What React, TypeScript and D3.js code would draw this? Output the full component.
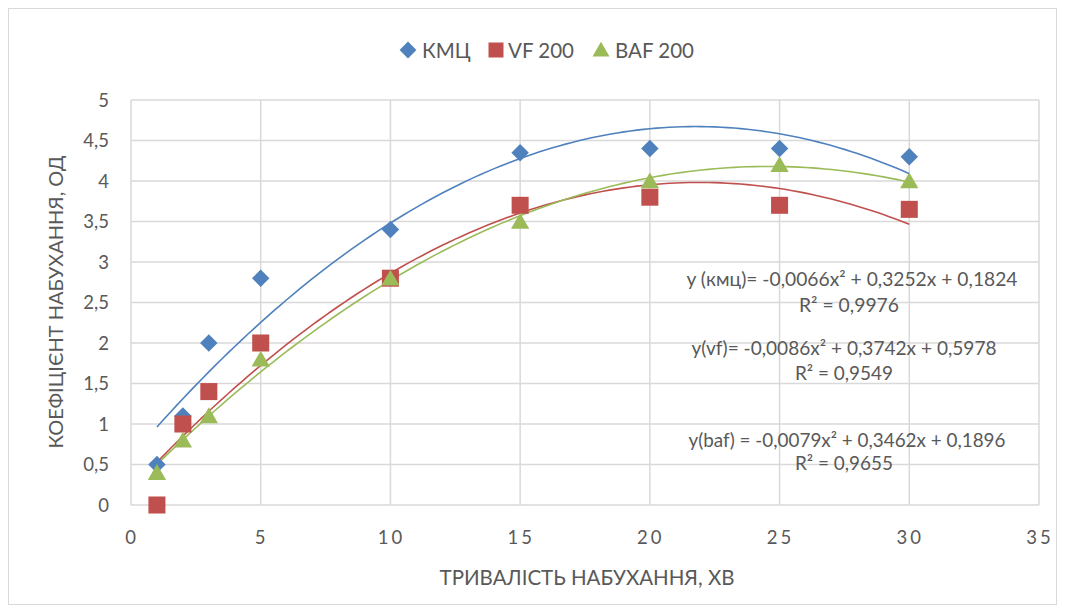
import { useEffect, useRef } from "react";
import * as d3 from "d3";

// час набухання, хв
const xValues = [1, 2, 3, 5, 10, 15, 20, 25, 30];
const kmcValues = [0.5, 1.1, 2.0, 2.8, 3.4, 4.35, 4.4, 4.4, 4.3];
const vfValues = [0, 1.0, 1.4, 2.0, 2.8, 3.7, 3.8, 3.7, 3.65];
const bafValues = [0.4, 0.8, 1.1, 1.8, 2.8, 3.5, 4.0, 4.2, 4.0];

const seriesNames = ["КМЦ", "VF 200", "BAF 200"];
const seriesColors = ["#4F81BD", "#C0504D", "#9BBB59"];
const seriesShapes = [d3.symbolDiamond2, d3.symbolSquare, d3.symbolTriangle];

const xTicks = [0, 5, 10, 15, 20, 25, 30, 35];
const yTicks = [0, 0.5, 1, 1.5, 2, 2.5, 3, 3.5, 4, 4.5, 5];

const equationLines = [
  ["y (кмц)= -0,0066x² + 0,3252x + 0,1824", "R² = 0,9976"],
  ["y(vf)= -0,0086x² + 0,3742x + 0,5978", "R² = 0,9549"],
  ["y(baf) = -0,0079x² + 0,3462x + 0,1896", "R² = 0,9655"],
];

// least squares quadratic, like Excel's polynomial trendline
function polyFit(xs: number[], ys: number[]) {
  const s = [0, 0, 0, 0, 0];
  const t = [0, 0, 0];
  xs.forEach((x, i) => {
    for (let k = 0; k < 5; k++) s[k] += Math.pow(x, k);
    for (let k = 0; k < 3; k++) t[k] += Math.pow(x, k) * ys[i];
  });
  const m = [
    [s[0], s[1], s[2], t[0]],
    [s[1], s[2], s[3], t[1]],
    [s[2], s[3], s[4], t[2]],
  ];
  for (let i = 0; i < 3; i++) {
    for (let j = i + 1; j < 3; j++) {
      const f = m[j][i] / m[i][i];
      for (let k = i; k < 4; k++) m[j][k] -= f * m[i][k];
    }
  }
  const c = [0, 0, 0];
  for (let i = 2; i >= 0; i--) {
    let v = m[i][3];
    for (let k = i + 1; k < 3; k++) v -= m[i][k] * c[k];
    c[i] = v / m[i][i];
  }
  return (x: number) => c[0] + c[1] * x + c[2] * x * x;
}

export default function App() {
  const ref = useRef<SVGSVGElement>(null);

  useEffect(() => {
    const svg = d3.select(ref.current);
    svg.selectAll("*").remove();

    const font = "Lato, 'Open Sans', sans-serif";
    const x = d3.scaleLinear().domain([0, 35]).range([131, 1039]);
    const y = d3.scaleLinear().domain([0, 5]).range([505, 100]);

    svg.append("rect")
      .attr("x", 8.5).attr("y", 8.5)
      .attr("width", 1048).attr("height", 596)
      .attr("fill", "#fff").attr("stroke", "#d9d9d9");

    // grid
    const grid = svg.append("g");
    grid.selectAll("line.h").data(yTicks).join("line")
      .attr("x1", x(0)).attr("x2", x(35))
      .attr("y1", d => y(d)).attr("y2", d => y(d))
      .attr("stroke", "#d9d9d9").attr("stroke-width", 1.5);
    grid.selectAll("line.v").data(xTicks).join("line")
      .attr("y1", y(0)).attr("y2", y(5))
      .attr("x1", d => x(d)).attr("x2", d => x(d))
      .attr("stroke", "#d9d9d9").attr("stroke-width", 1.5);

    // tick labels
    svg.append("g").selectAll("text").data(yTicks).join("text")
      .attr("x", 109).attr("y", d => y(d) + 6.5)
      .attr("text-anchor", "end")
      .attr("font-family", font).attr("font-size", 18.5).attr("fill", "#595959")
      .text(d => String(d).replace(".", ","));
    svg.append("g").selectAll("text").data(xTicks).join("text")
      .attr("x", d => x(d) + 1).attr("y", 544)
      .attr("text-anchor", "middle")
      .attr("font-family", font).attr("font-size", 18.5).attr("fill", "#595959")
      .attr("letter-spacing", 3)
      .text(d => String(d));

    // axis titles
    svg.append("text")
      .attr("x", 587).attr("y", 585).attr("text-anchor", "middle")
      .attr("font-family", font).attr("font-size", 20.5).attr("fill", "#595959")
      .text("ТРИВАЛІСТЬ НАБУХАННЯ, ХВ");
    svg.append("text")
      .attr("transform", "translate(63,302) rotate(-90)")
      .attr("text-anchor", "middle")
      .attr("font-family", font).attr("font-size", 20).attr("fill", "#595959")
      .text("КОЕФІЦІЄНТ НАБУХАННЯ, ОД");

    const allSeries = [kmcValues, vfValues, bafValues];

    // trendlines
    allSeries.forEach((vals, i) => {
      const f = polyFit(xValues, vals);
      const pts = d3.range(1, 30.01, 0.25);
      const line = d3.line<number>().x(d => x(d)).y(d => y(f(d)));
      svg.append("path")
        .attr("d", line(pts))
        .attr("fill", "none").attr("stroke", seriesColors[i]).attr("stroke-width", 1.6);
    });

    // markers
    const sizes = [195, 290, 145];
    const dy = [0, 0, 2];
    allSeries.forEach((vals, i) => {
      svg.append("g").selectAll("path").data(vals).join("path")
        .attr("transform", (d, j) => `translate(${x(xValues[j])},${y(d) + dy[i]})`)
        .attr("d", d3.symbol(seriesShapes[i], sizes[i])())
        .attr("fill", seriesColors[i]);
    });

    // equations
    const eqX = [[852, 849], [844, 844], [847, 844]];
    const eqY = [[286, 312], [355, 380], [447, 470]];
    const eqW = [[331, 100], [305, 98], [317, 98]];
    equationLines.forEach((lines, i) => {
      lines.forEach((t, k) => {
        svg.append("text")
          .attr("x", eqX[i][k]).attr("y", eqY[i][k])
          .attr("text-anchor", "middle")
          .attr("font-family", font).attr("font-size", 19).attr("fill", "#595959")
          .attr("textLength", eqW[i][k]).attr("lengthAdjust", "spacingAndGlyphs")
          .text(t);
      });
    });

    // legend
    const legendX = [408, 496, 601];
    const legendSizes = [180, 225, 125];
    seriesNames.forEach((name, i) => {
      const lg = svg.append("g").attr("transform", `translate(${legendX[i]},50)`);
      lg.append("path")
        .attr("d", d3.symbol(seriesShapes[i], legendSizes[i])())
        .attr("transform", i === 2 ? "translate(0,1.5)" : null)
        .attr("fill", seriesColors[i]);
      lg.append("text")
        .attr("x", [14, 12, 14][i]).attr("y", 7.5)
        .attr("font-family", font).attr("font-size", 20.5).attr("fill", "#595959")
        .text(name);
    });
  }, []);

  return (
    <svg
      ref={ref}
      width={1065}
      height={613}
      style={{ display: "block", position: "absolute", left: 0, top: 0 }}
    />
  );
}
